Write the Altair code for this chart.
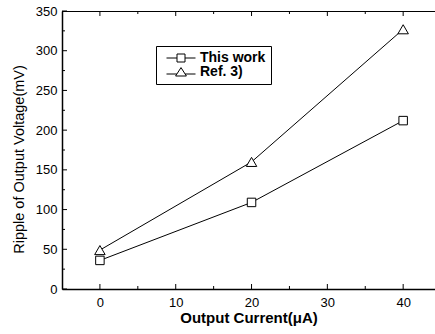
import altair as alt
import pandas as pd

# ---- data ----
current = [0, 20, 40]                 # Output Current (uA)
this_work = [36, 109, 212]            # ripple (mV)
ref3 = [49, 160, 327]                 # ripple (mV)
series_names = ["This work", "Ref. 3)"]
x_major = [0, 10, 20, 30, 40]
x_minor = [5, 15, 25, 35]
y_major = [0, 50, 100, 150, 200, 250, 300, 350]
y_minor = [25, 75, 125, 175, 225, 275, 325]

W, H = 373, 278
FONT = "Liberation Sans"

rows = []
for name, vals in zip(series_names, [this_work, ref3]):
    for c, v in zip(current, vals):
        rows.append({"x": c, "y": v, "series": name})
df = pd.DataFrame(rows)

xscale = alt.Scale(domain=[-5, 44.2], nice=False, zero=False)
yscale = alt.Scale(domain=[0, 350], nice=False)

# legend glyphs: short line with the marker in its middle
sq_path = "M-0.375,0H2.25M4.25,0H6.875M2.25,-1H4.25V1H2.25Z"
tri_path = "M-0.375,0.5H2.22M4.28,0.5H6.875M3.25,-1.1L4.6,1H1.9Z"

bottom_axis = alt.Axis(
    values=x_major, ticks=False, tickSize=0, grid=False,
    domainColor="black", domainWidth=1.5, labelColor="black",
    labelFontSize=13, labelPadding=7, format="d", labelOverlap=False,
    title="Output Current(μA)", titleFontSize=15, titleFontWeight="bold",
    titleColor="black", titleBaseline="top", titleY=21,
)
left_axis = alt.Axis(
    values=y_major, ticks=False, tickSize=0, grid=False,
    domainColor="black", domainWidth=1.5, labelColor="black",
    labelFontSize=13, labelPadding=5, format="d", labelOverlap=False,
    title="Ripple of Output Voltage(mV)", titleFontSize=14.5,
    titleFontWeight="normal", titleColor="black",
    titleX=-36, titleY=148, titleBaseline="bottom",
)

X = lambda f: alt.X(f, scale=xscale, axis=bottom_axis)
Y = lambda f: alt.Y(f, scale=yscale, axis=left_axis)

lines = alt.Chart(df).mark_line(color="black", strokeWidth=1).encode(
    x=X("x:Q"), y=Y("y:Q"), detail="series:N",
)

points = alt.Chart(df).mark_point(
    filled=True, fill="white", stroke="black", strokeWidth=1, opacity=1
).encode(
    x=X("x:Q"), y=Y("y:Q"),
    shape=alt.Shape("series:N", scale=alt.Scale(domain=series_names, range=["square", "triangle-up"]), legend=None),
    size=alt.Size("series:N", scale=alt.Scale(domain=series_names, range=[72, 110]), legend=None),
)

legend = alt.Legend(
    title=None, orient="none", legendX=94, legendY=35, padding=5,
    strokeColor="black", fillColor="white", labelFont=FONT,
    labelFontSize=14, labelFontWeight="bold", labelColor="black",
    labelOffset=25, rowPadding=-2, symbolSize=64,
    symbolStrokeColor="black", symbolStrokeWidth=1, symbolOpacity=1,
)

legend_layer = alt.Chart(df).transform_filter("false").mark_point(
    color="black", strokeWidth=1, opacity=1
).encode(
    x=X("x:Q"), y=Y("y:Q"),
    shape=alt.Shape("series:N", scale=alt.Scale(domain=series_names, range=[sq_path, tri_path]), legend=legend),
)

xmaj = pd.DataFrame({"x": x_major})
xmin = pd.DataFrame({"x": x_minor})
ymaj = pd.DataFrame({"y": y_major})
ymin = pd.DataFrame({"y": y_minor})

def xticks(data, y0, y1):
    return alt.Chart(data).mark_rule(color="black", strokeWidth=1).encode(
        x=X("x:Q"), y=alt.value(y0), y2=alt.value(y1),
    )

def yticks(data, x0, x1):
    return alt.Chart(data).mark_rule(color="black", strokeWidth=1).encode(
        y=Y("y:Q"), x=alt.value(x0), x2=alt.value(x1),
    )

top_line = alt.Chart(pd.DataFrame({"x": [0]})).mark_rule(color="black", strokeWidth=1).encode(
    x=alt.value(0), x2=alt.value(W), y=alt.value(0.5),
)

chart = alt.layer(
    lines,
    points,
    legend_layer,
    xticks(xmaj, 0, 5),
    xticks(xmin, 0, 3),
    xticks(xmaj, H, H - 5),
    xticks(xmin, H, H - 3),
    yticks(ymaj, 0, 5),
    yticks(ymin, 0, 3),
    top_line,
).resolve_scale(shape="independent").properties(
    width=W, height=H,
    padding={"left": 62, "top": 11, "right": 0, "bottom": 45},
    autosize=alt.AutoSizeParams(type="none"),
    background="white",
).configure_view(stroke=None).configure(font=FONT)

chart.save("out.html", embed_options={"renderer": "svg", "actions": False})
